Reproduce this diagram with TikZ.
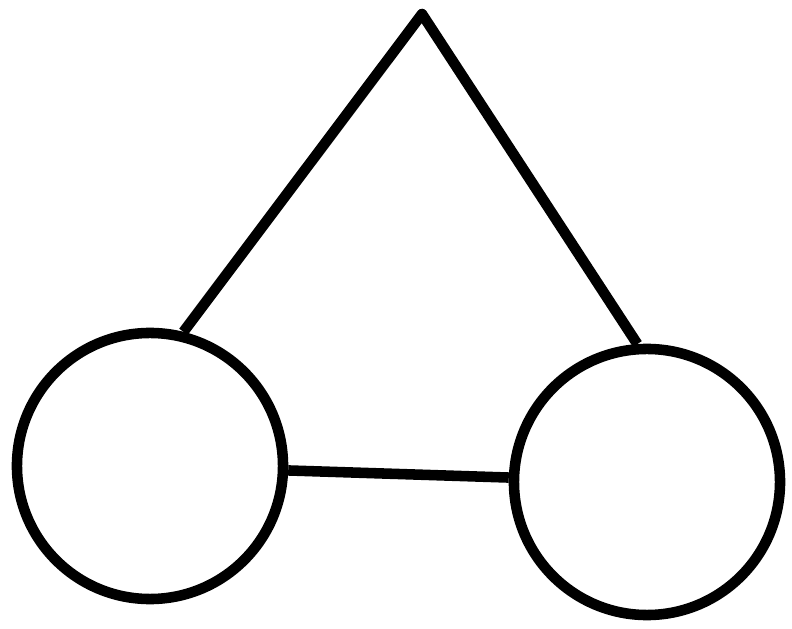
\documentclass[tikz,border=0pt]{standalone}
\usepackage{tikz}
\usetikzlibrary{positioning}
\tikzset{
   ring/.style={draw, circle, line width=7.5pt, inner sep=0pt, minimum size=6.65cm},
   bar/.style={line width=7.5pt, line join=round}
}
\begin{document}
\begin{tikzpicture}[x=0.025cm, y=-0.025cm]
            \useasboundingbox (0,0) rectangle (792,629);
            % Circles
            \node[ring] (left) at (150,466) {};
            \node[ring] (right) at (647,482) {};
            % Apex
            \coordinate (apex) at (422,14);
            % Triangle sides
            \draw[bar] (left.76) -- (apex) -- (right.94);
            % Link between the circles
            \draw[bar] (left) -- (right);
         \end{tikzpicture}
\end{document}
